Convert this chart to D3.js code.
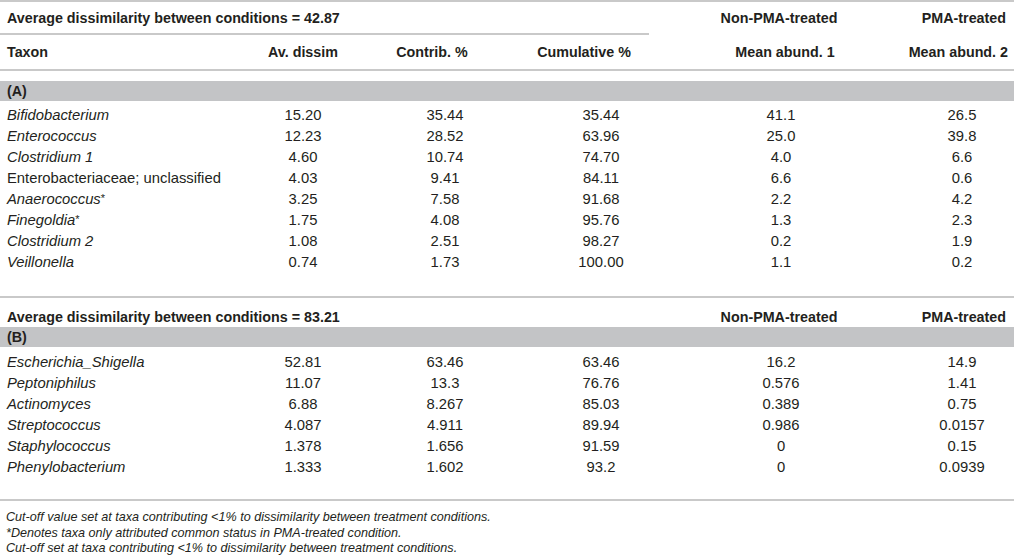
<!DOCTYPE html>
<html>
<head>
<meta charset="utf-8">
<script src="https://cdn.jsdelivr.net/npm/d3@7"></script>
<style>
  body { margin: 0; background: #fff; }
  text { font-family: "Liberation Sans", Arial, sans-serif; fill: #231f20; }
</style>
</head>
<body>
<div id="table"></div>
<script>
// Table values
var columns = ["Taxon", "Av. dissim", "Contrib. %", "Cumulative %", "Mean abund. 1", "Mean abund. 2"];

var taxaA = ["Bifidobacterium", "Enterococcus", "Clostridium 1", "Enterobacteriaceae; unclassified",
             "Anaerococcus", "Finegoldia", "Clostridium 2", "Veillonella"];
var italicA = [true, true, true, false, true, true, true, true];
var starA = [false, false, false, false, true, true, false, false];
var avDissimA = ["15.20", "12.23", "4.60", "4.03", "3.25", "1.75", "1.08", "0.74"];
var contribA = ["35.44", "28.52", "10.74", "9.41", "7.58", "4.08", "2.51", "1.73"];
var cumulativeA = ["35.44", "63.96", "74.70", "84.11", "91.68", "95.76", "98.27", "100.00"];
var abund1A = ["41.1", "25.0", "4.0", "6.6", "2.2", "1.3", "0.2", "1.1"];
var abund2A = ["26.5", "39.8", "6.6", "0.6", "4.2", "2.3", "1.9", "0.2"];

var taxaB = ["Escherichia_Shigella", "Peptoniphilus", "Actinomyces", "Streptococcus", "Staphylococcus", "Phenylobacterium"];
var avDissimB = ["52.81", "11.07", "6.88", "4.087", "1.378", "1.333"];
var contribB = ["63.46", "13.3", "8.267", "4.911", "1.656", "1.602"];
var cumulativeB = ["63.46", "76.76", "85.03", "89.94", "91.59", "93.2"];
var abund1B = ["16.2", "0.576", "0.389", "0.986", "0", "0"];
var abund2B = ["14.9", "1.41", "0.75", "0.0157", "0.15", "0.0939"];

var titleA = "Average dissimilarity between conditions = 42.87";
var titleB = "Average dissimilarity between conditions = 83.21";
var groupLabels = ["Non-PMA-treated", "PMA-treated"];
var sectionLabels = ["(A)", "(B)"];
var footnotes = [
  "Cut-off value set at taxa contributing <1% to dissimilarity between treatment conditions.",
  "*Denotes taxa only attributed common status in PMA-treated condition.",
  "Cut-off set at taxa contributing <1% to dissimilarity between treatment conditions."
];

// Set the dimensions
var w = 1014, h = 560;
var lineColor = "#c9c9c9", bandColor = "#c3c4c6";
var fsBody = 14.8, fsBold = 14.3, fsNote = 12.6;

var svg = d3.select("#table").append("svg")
  .attr("width", w)
  .attr("height", h);

// Column positions: header and cell text anchors
var xHead = d3.scaleOrdinal().domain(columns).range([7, 303, 432, 584, 785, 1008]);
var anchorHead = d3.scaleOrdinal().domain(columns).range(["start", "middle", "middle", "middle", "middle", "end"]);
var xCell = d3.scaleOrdinal().domain(columns).range([7, 303, 445, 601, 781, 962]);
var xGroup = d3.scaleOrdinal().domain(groupLabels).range([779, 1006]);
var anchorGroup = d3.scaleOrdinal().domain(groupLabels).range(["middle", "end"]);

// Row positions
var yA = d3.scalePoint().domain(taxaA).range([115, 262]);
var yB = d3.scalePoint().domain(taxaB).range([362, 467]);

// Rules
var rules = [
  { y: 1, x1: 0, x2: w },
  { y: 34, x1: 0, x2: 649 },
  { y: 70, x1: 0, x2: w },
  { y: 297, x1: 0, x2: w },
  { y: 500, x1: 0, x2: w }
];
svg.selectAll("line.rule").data(rules).enter().append("line")
  .attr("class", "rule")
  .attr("x1", function(d) { return d.x1; })
  .attr("x2", function(d) { return d.x2; })
  .attr("y1", function(d) { return d.y; })
  .attr("y2", function(d) { return d.y; })
  .attr("stroke", lineColor)
  .attr("stroke-width", 2);

// Section bands
var bands = [{ label: sectionLabels[0], y: 81 }, { label: sectionLabels[1], y: 327 }];
svg.selectAll("rect.band").data(bands).enter().append("rect")
  .attr("class", "band")
  .attr("x", 0)
  .attr("y", function(d) { return d.y; })
  .attr("width", w)
  .attr("height", 20)
  .attr("fill", bandColor);
svg.selectAll("text.band").data(bands).enter().append("text")
  .attr("class", "band")
  .attr("x", 7)
  .attr("y", function(d) { return d.y + 10; })
  .attr("dy", "0.35em")
  .attr("font-size", fsBold)
  .attr("font-weight", "bold")
  .text(function(d) { return d.label; });

// Header rows
function bold(x, y, txt, anchor) {
  svg.append("text")
    .attr("x", x).attr("y", y).attr("dy", "0.35em")
    .attr("font-size", fsBold)
    .attr("font-weight", "bold")
    .attr("text-anchor", anchor)
    .text(txt);
}
[18, 317].forEach(function(y, k) {
  bold(7, y, k == 0 ? titleA : titleB, "start");
  groupLabels.forEach(function(g) { bold(xGroup(g), y, g, anchorGroup(g)); });
});
columns.forEach(function(c) {
  bold(xHead(c), 52, c, anchorHead(c));
});

// Body rows
function drawRows(taxa, italic, star, cols, yScale) {
  var rows = taxa.map(function(t, i) {
    return { taxon: t, italic: italic[i], star: star[i], values: cols.map(function(a) { return a[i]; }) };
  });
  var g = svg.append("g");
  var names = g.selectAll("text.taxon").data(rows).enter().append("text")
    .attr("class", "taxon")
    .attr("x", xCell(columns[0]))
    .attr("y", function(d) { return yScale(d.taxon); })
    .attr("dy", "0.35em")
    .attr("font-size", fsBody);
  names.append("tspan")
    .attr("font-style", function(d) { return d.italic ? "italic" : "normal"; })
    .text(function(d) { return d.taxon; });
  names.filter(function(d) { return d.star; }).append("tspan")
    .attr("font-size", 11)
    .attr("dy", "-0.2em")
    .text("*");

  rows.forEach(function(r) {
    g.selectAll(null).data(r.values).enter().append("text")
      .attr("x", function(d, j) { return xCell(columns[j + 1]); })
      .attr("y", yScale(r.taxon))
      .attr("dy", "0.35em")
      .attr("font-size", fsBody)
      .attr("text-anchor", "middle")
      .text(function(d) { return d; });
  });
}
drawRows(taxaA, italicA, starA, [avDissimA, contribA, cumulativeA, abund1A, abund2A], yA);
drawRows(taxaB, taxaB.map(function() { return true; }), taxaB.map(function() { return false; }),
  [avDissimB, contribB, cumulativeB, abund1B, abund2B], yB);

// Footnotes
svg.selectAll("text.note").data(footnotes).enter().append("text")
  .attr("class", "note")
  .attr("x", 6)
  .attr("y", function(d, i) { return 517 + i * 15.5; })
  .attr("dy", "0.35em")
  .attr("font-size", fsNote)
  .attr("font-style", "italic")
  .text(function(d) { return d; });
</script>
</body>
</html>
